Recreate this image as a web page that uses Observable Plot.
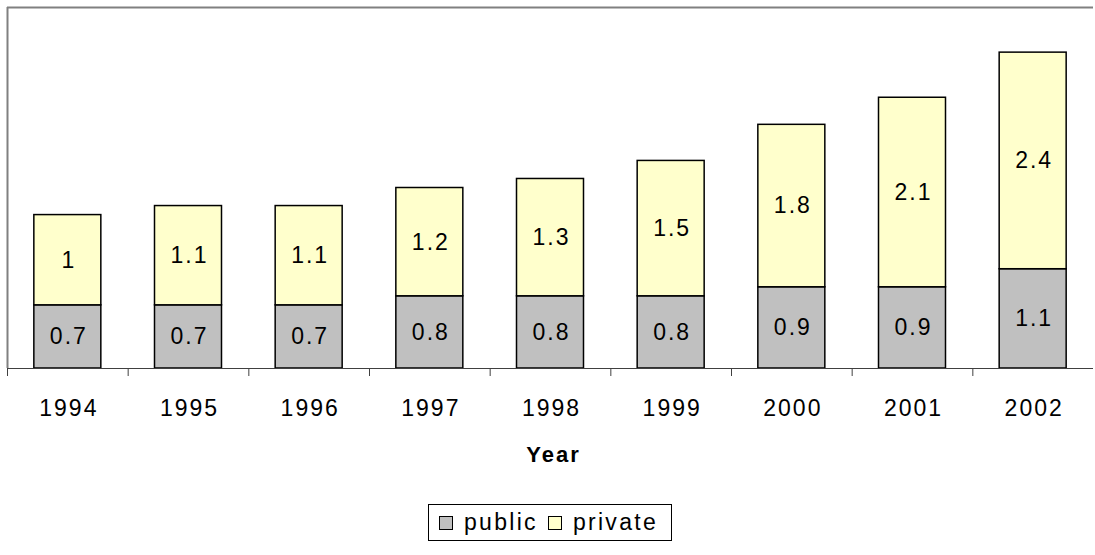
<!DOCTYPE html>
<html>
<head>
<meta charset="utf-8">
<script src="https://cdn.jsdelivr.net/npm/d3@7"></script>
<script src="https://cdn.jsdelivr.net/npm/@observablehq/plot@0.6"></script>
<style>
  html, body { margin: 0; padding: 0; background: #fff; }
  body { width: 1095px; height: 555px; overflow: hidden; font-family: "Liberation Sans", Arial, sans-serif; }
  #chart svg text { letter-spacing: 2px; }
  #legend {
    position: absolute; left: 428px; top: 504px; width: 244px; height: 37px;
    border: 1px solid #000; box-sizing: border-box;
    display: flex; align-items: center; font-size: 23px; letter-spacing: 2.3px; color: #000;
  }
  #legend .sw { width: 14px; height: 14px; border: 1px solid #000; box-sizing: border-box; margin-left: 10px; margin-right: 11px; }
</style>
</head>
<body>
<div id="chart"></div>
<div id="legend"></div>
<script>
const years = [1994, 1995, 1996, 1997, 1998, 1999, 2000, 2001, 2002];
const publicValues = [0.7, 0.7, 0.7, 0.8, 0.8, 0.8, 0.9, 0.9, 1.1];
const privateValues = [1, 1.1, 1.1, 1.2, 1.3, 1.5, 1.8, 2.1, 2.4];
const seriesNames = ["public", "private"];
const seriesColors = ["#c0c0c0", "#ffffcc"];
const xLabel = "Year";

// Build stacked rows
const rows = [];
years.forEach((year, i) => {
  const pub = publicValues[i], pri = privateValues[i];
  rows.push({year, series: "public", value: pub, y1: 0, y2: pub});
  rows.push({year, series: "private", value: pri, y1: pub, y2: pub + pri});
});
const boundaries = [years[0] - 0.5, ...years.slice(0, -1).map(y => y + 0.5)];
const halfBar = 0.2776;

const chart = Plot.plot({
  width: 1095,
  height: 470,
  marginLeft: 7,
  marginRight: 2,
  marginTop: 7,
  marginBottom: 102,
  style: {fontFamily: '"Liberation Sans", Arial, sans-serif', fontSize: "23px", color: "#000", background: "#fff"},
  x: {domain: [years[0] - 0.5, years[years.length - 1] + 0.5], axis: null, label: null},
  y: {domain: [0, 4], axis: null, label: null},
  color: {domain: seriesNames, range: seriesColors},
  marks: [
    Plot.ruleY([4], {stroke: "#808080", strokeWidth: 2}),
    Plot.ruleX([years[0] - 0.5], {y1: 0, y2: 4, stroke: "#808080", strokeWidth: 2}),
    Plot.rectY(rows, {
      x1: d => d.year - halfBar, x2: d => d.year + halfBar,
      y1: "y1", y2: "y2", fill: "series", stroke: "#000", strokeWidth: 1.5
    }),
    Plot.ruleY([0], {stroke: "#404040", strokeWidth: 1.2}),
    Plot.axisX({ticks: boundaries, tickSize: 8, tickFormat: () => "", stroke: "#404040", label: null}),
    Plot.axisX({ticks: years, tickSize: 0, tickPadding: 31, tickFormat: d => String(d), fontSize: 23, fill: "#000", label: null, dx: 1}),
    Plot.text(rows, {
      x: "year", y: d => (d.y1 + d.y2) / 2, text: d => String(d.value),
      fontSize: 23, fill: "#000", lineAnchor: "middle", dx: 1
    }),
    Plot.text([xLabel], {
      x: () => (years[0] + years[years.length - 1]) / 2, frameAnchor: "bottom",
      text: d => d, dy: 78, dx: 3, lineAnchor: "top", fontWeight: "bold", fontSize: 22, fill: "#000"
    })
  ]
});
document.getElementById("chart").appendChild(chart);

const legend = document.getElementById("legend");
seriesNames.forEach((name, i) => {
  const sw = document.createElement("span");
  sw.className = "sw";
  sw.style.background = seriesColors[i];
  legend.appendChild(sw);
  const t = document.createElement("span");
  t.textContent = name;
  legend.appendChild(t);
});
</script>
</body>
</html>
